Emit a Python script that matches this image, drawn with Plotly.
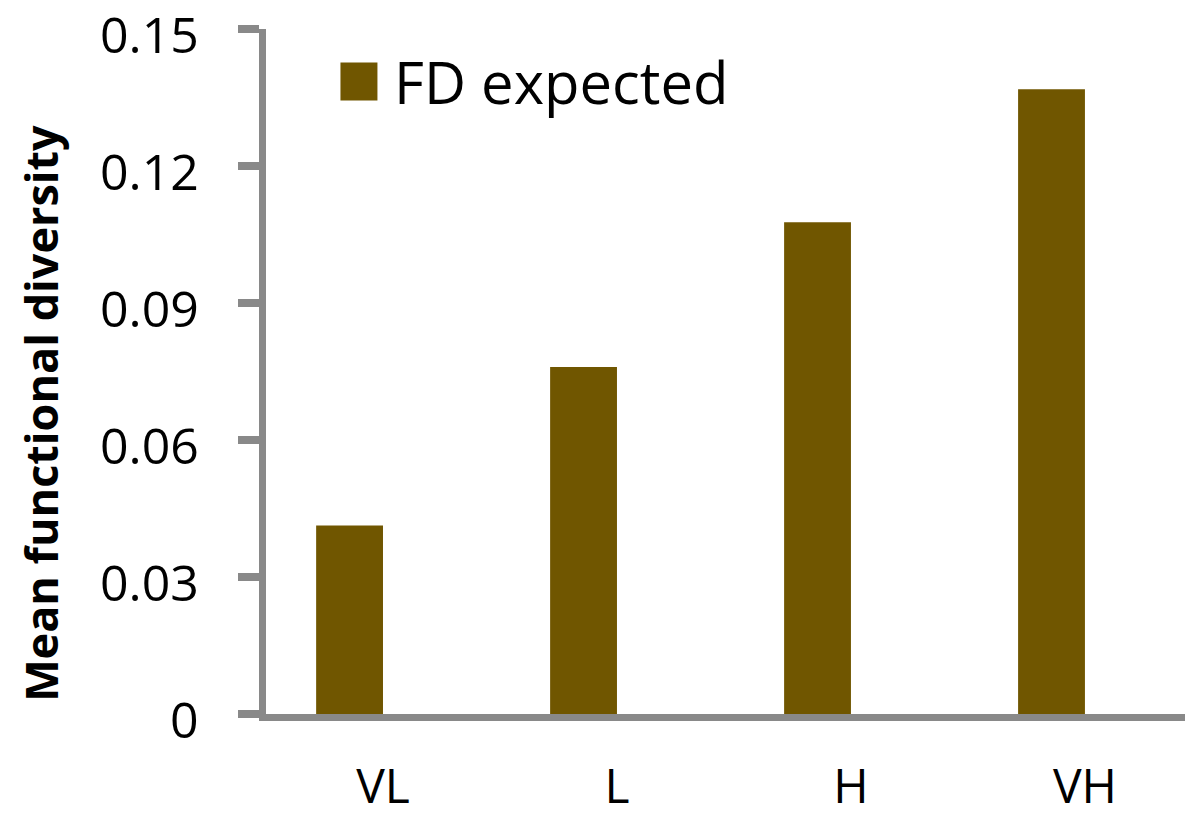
import plotly.graph_objects as go

# Functional diversity per category
categories = ["VL", "L", "H", "VH"]
fd_expected = [0.0413, 0.0760, 0.1077, 0.1368]
y_ticks = [0, 0.03, 0.06, 0.09, 0.12, 0.15]
y_tick_labels = ["0", "0.03", "0.06", "0.09", "0.12", "0.15"]

BAR_COLOR = "#705600"
AXIS_COLOR = "#898989"
FONT = "Open Sans"

W, H = 1185, 824
LW = 7  # axis line width
ML, MR, MT = 265.5, 0, 28.5
MB = H - 714
PLOT_W = W - ML - MR
PLOT_H = H - MT - MB

x_pos = list(range(len(categories)))

fig = go.Figure()
fig.add_trace(go.Bar(
    x=x_pos,
    y=fd_expected,
    name="FD expected",
    marker=dict(color=BAR_COLOR, line=dict(width=0)),
    offset=-0.2857,
    width=0.2857,
    showlegend=False,
))


def px_x(px):
    return (px - ML) / PLOT_W


def px_y(py):
    return (H - MB - py) / PLOT_H


# legend swatch + label
fig.add_shape(type="rect", xref="paper", yref="paper",
              x0=px_x(340), x1=px_x(377), y0=px_y(100), y1=px_y(62),
              fillcolor=BAR_COLOR, line=dict(width=0))
fig.add_annotation(text="FD expected", xref="paper", yref="paper",
                   x=px_x(392), y=px_y(81), xanchor="left", yanchor="middle",
                   showarrow=False, font=dict(family=FONT, size=58, color="black"))

# y-axis title
fig.add_annotation(text="<b>Mean functional diversity</b>", xref="paper", yref="paper",
                   x=px_x(40), y=px_y(413),
                   xanchor="center", yanchor="middle", textangle=-90,
                   showarrow=False, font=dict(family=FONT, size=45, color="black"))

# y tick labels, set slightly below their ticks
for val, lab in zip(y_ticks, y_tick_labels):
    fig.add_annotation(text=lab, xref="paper", yref="y",
                       x=px_x(200), y=val, xanchor="right", yanchor="middle",
                       yshift=-5, showarrow=False,
                       font=dict(family=FONT, size=50, color="black"))

fig.update_layout(
    width=W, height=H, autosize=False,
    margin=dict(l=ML, r=MR, t=MT, b=MB, pad=0, autoexpand=False),
    plot_bgcolor="white", paper_bgcolor="white",
    font=dict(family=FONT, color="black"),
    xaxis=dict(
        range=[-0.5, -0.5 + (W - 262) / 235.0],
        tickvals=x_pos, ticktext=categories,
        tickfont=dict(size=48),
        showline=True, linecolor=AXIS_COLOR, linewidth=LW,
        ticks="", showgrid=False, zeroline=False,
        ticklabelstandoff=24, automargin=False,
        ticklabeloverflow="allow",
    ),
    yaxis=dict(
        range=[0, 0.15],
        tickvals=y_ticks, showticklabels=False,
        showline=True, linecolor=AXIS_COLOR, linewidth=LW,
        ticks="outside", ticklen=21, tickwidth=8, tickcolor=AXIS_COLOR,
        showgrid=False, zeroline=False,
        automargin=False,
    ),
)

fig.write_html("out.html")
